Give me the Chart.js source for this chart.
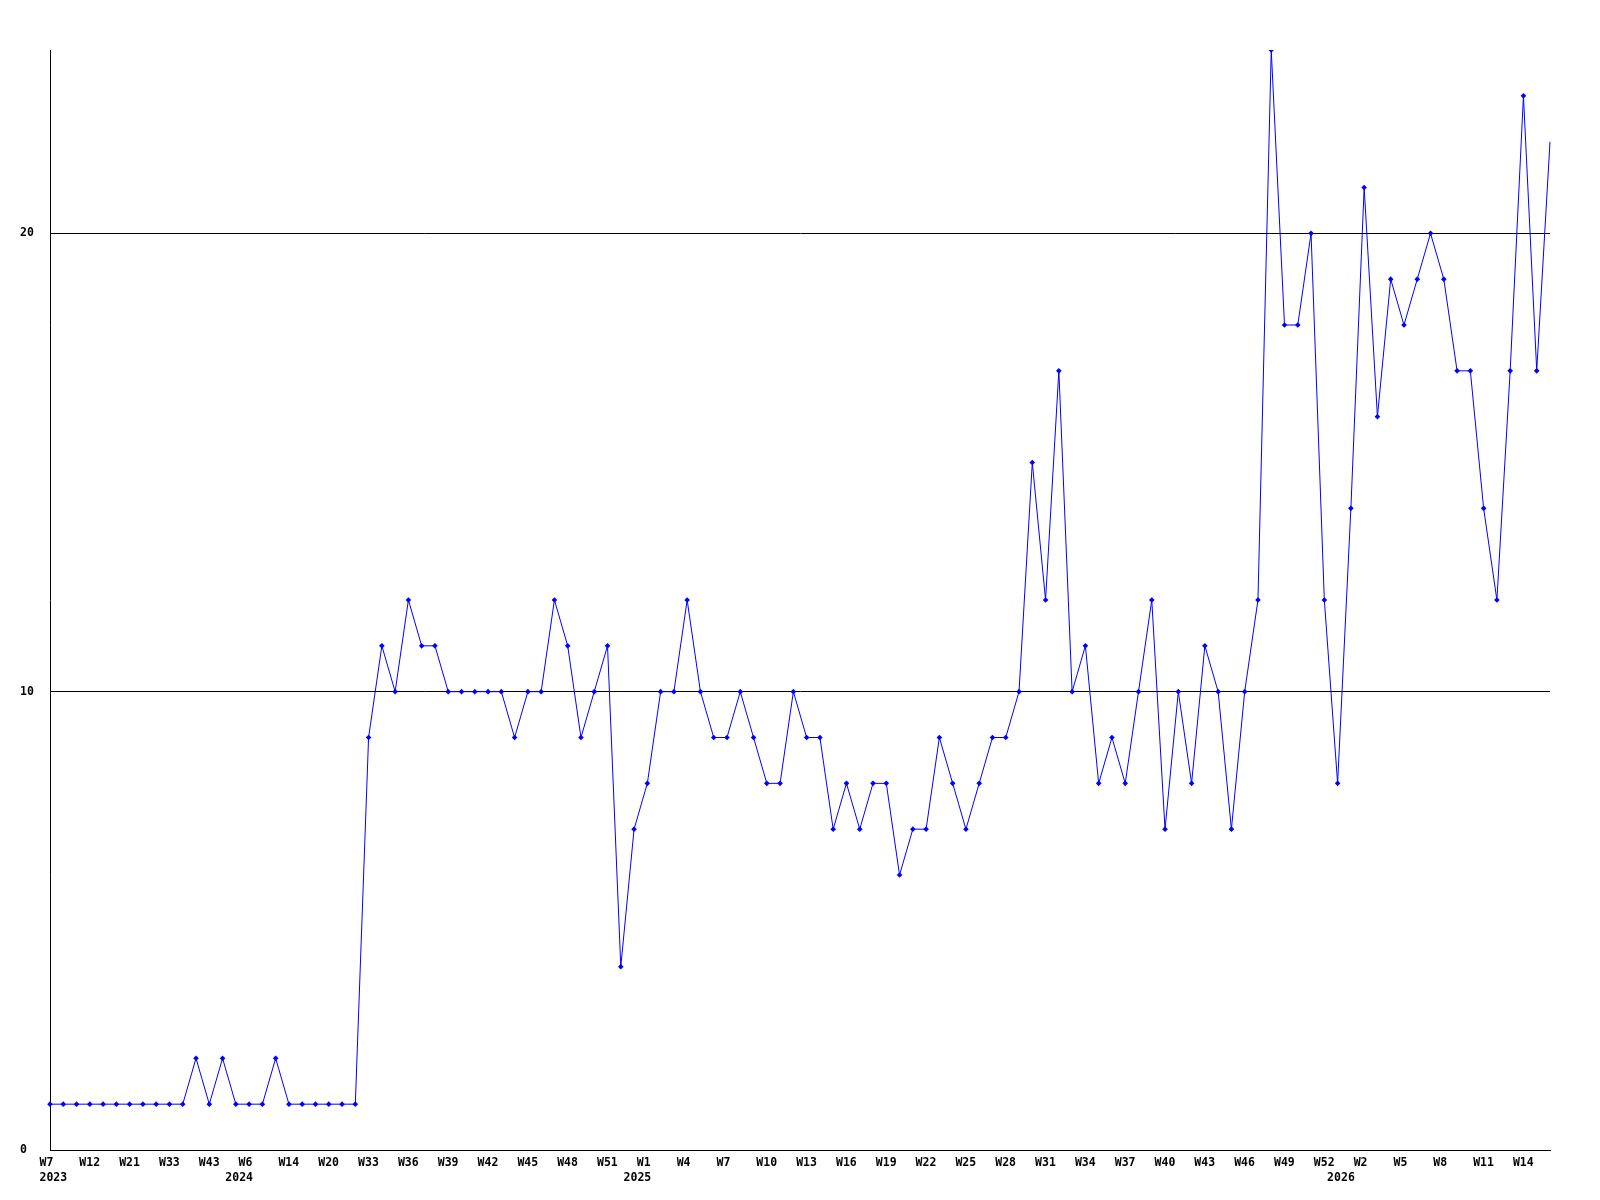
<!DOCTYPE html>
<html>
<head>
<meta charset="utf-8">
<script src="https://cdn.jsdelivr.net/npm/chart.js@4.4.1/dist/chart.umd.min.js"></script>
<style>
  body { margin: 0; background: #fff; }
  canvas { display: block; }
</style>
</head>
<body>
<canvas id="weekChart" width="1600" height="1200"></canvas>
<script>
// ----------- Data -----------
// one value per week, week label shown on every third week
const tickLabels = ['W7', 'W12', 'W21', 'W33', 'W43', 'W6', 'W14', 'W20', 'W33', 'W36',
  'W39', 'W42', 'W45', 'W48', 'W51', 'W1', 'W4', 'W7', 'W10', 'W13', 'W16', 'W19',
  'W22', 'W25', 'W28', 'W31', 'W34', 'W37', 'W40', 'W43', 'W46', 'W49', 'W52', 'W2',
  'W5', 'W8', 'W11', 'W14'];
// week index where each year starts
const yearStart = [0, 14, 44, 97];
const years = ['2023', '2024', '2025', '2026'];

const counts = [
  1, 1, 1, 1, 1, 1, 1, 1, 1, 1, 1, 2, 1, 2, 1, 1, 1, 2, 1, 1, 1, 1, 1, 1,
  9, 11, 10, 12, 11, 11, 10, 10, 10, 10, 10, 9, 10, 10, 12, 11, 9, 10, 11, 4,
  7, 8, 10, 10, 12, 10, 9, 9, 10, 9, 8, 8, 10, 9, 9, 7, 8, 7, 8, 8, 6, 7,
  7, 9, 8, 7, 8, 9, 9, 10, 15, 12, 17, 10, 11, 8, 9, 8, 10, 12, 7, 10, 8, 11,
  10, 7, 10, 12, 24, 18, 18, 20, 12, 8, 14, 21, 16, 19, 18, 19, 20, 19, 17, 17,
  14, 12, 17, 23, 17, 22
];
const yTicks = [0, 10, 20];

// ----------- Build category labels -----------
const categories = counts.map((v, i) => (i % 3 === 0 ? tickLabels[i / 3] : ''));

const fontFamily = '"DejaVu Sans Mono", "Liberation Mono", monospace';
const tickFont = { family: fontFamily, size: 11.5, weight: 'bold' };

// week + year labels start a little left of their point
const xLabelsPlugin = {
  id: 'xLabels',
  afterDraw(chart) {
    const ctx = chart.ctx;
    const xScale = chart.scales.x;
    const top = xScale.top;
    ctx.save();
    ctx.fillStyle = '#000';
    ctx.font = 'bold 11.5px ' + fontFamily;
    ctx.textAlign = 'left';
    ctx.textBaseline = 'top';
    categories.forEach((lbl, i) => {
      if (lbl) ctx.fillText(lbl, xScale.getPixelForValue(i) - 10.5, top + 7);
    });
    yearStart.forEach((idx, k) => {
      ctx.fillText(years[k], xScale.getPixelForValue(idx) - 10.5, top + 22);
    });
    ctx.restore();
  }
};

new Chart(document.getElementById('weekChart').getContext('2d'), {
  type: 'line',
  data: {
    labels: categories,
    datasets: [{
      data: counts,
      borderColor: '#0000ff',
      backgroundColor: '#0000ff',
      borderWidth: 1,
      tension: 0,
      pointStyle: 'rectRot',
      pointRadius: ctx => ctx.dataIndex === counts.length - 1 ? 0 : 2.8,
      pointBorderWidth: 0,
      fill: false
    }]
  },
  options: {
    responsive: false,
    animation: false,
    layout: { padding: { top: 50, left: 20, right: 50, bottom: 0 } },
    plugins: {
      legend: { display: false },
      tooltip: { enabled: false }
    },
    scales: {
      x: {
        type: 'category',
        offset: false,
        grid: { display: false, drawTicks: false },
        border: { display: true, color: '#000', width: 1 },
        ticks: { display: false, autoSkip: false },
        afterFit: scale => { scale.height = 50; }
      },
      y: {
        min: 0,
        max: 24,
        grid: { color: '#000', lineWidth: 1, drawTicks: false },
        border: { display: true, color: '#000', width: 1 },
        ticks: {
          crossAlign: 'far',
          color: '#000',
          font: tickFont
        },
        afterBuildTicks: scale => { scale.ticks = yTicks.map(v => ({ value: v })); },
        afterFit: scale => { scale.width = 30; }
      }
    }
  },
  plugins: [xLabelsPlugin]
});
</script>
</body>
</html>
